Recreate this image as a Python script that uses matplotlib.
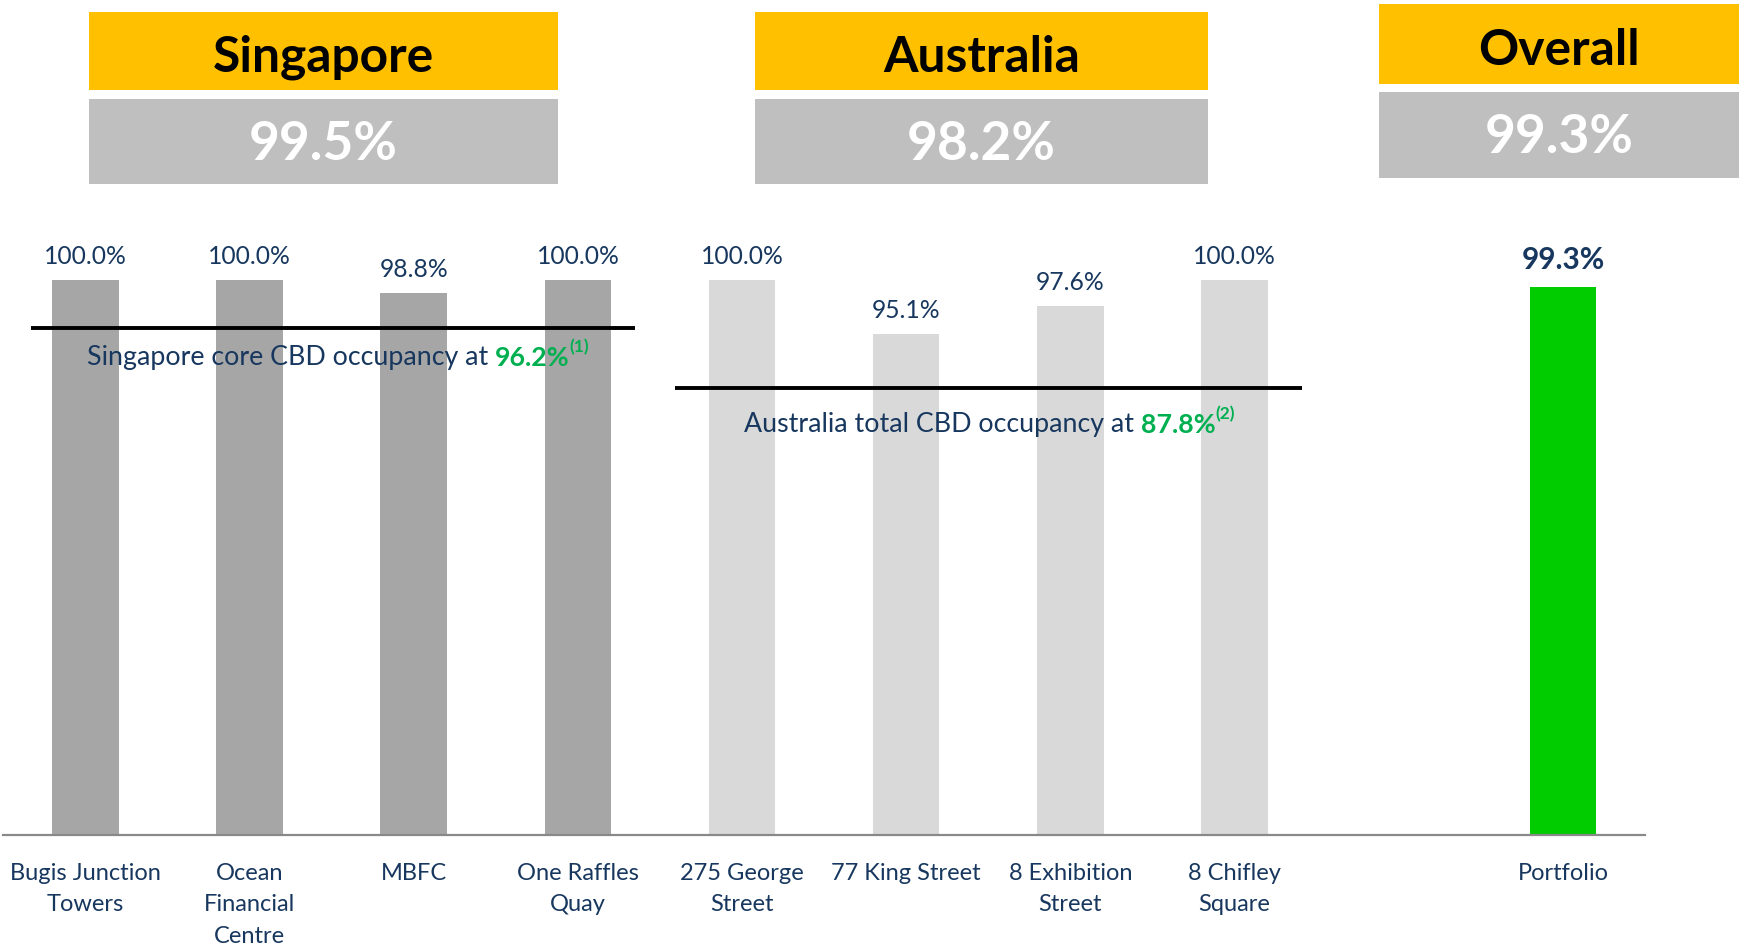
import matplotlib
matplotlib.use("Agg")
import matplotlib.pyplot as plt
from matplotlib.patches import Rectangle

# ---------------- data ----------------
categories = ["Bugis Junction\nTowers", "Ocean\nFinancial\nCentre", "MBFC", "One Raffles\nQuay",
              "275 George\nStreet", "77 King Street", "8 Exhibition\nStreet", "8 Chifley\nSquare",
              "Portfolio"]
occupancy = [100.0, 100.0, 98.8, 100.0, 100.0, 95.1, 97.6, 100.0, 99.3]
groups = ["Singapore"] * 4 + ["Australia"] * 4 + ["Overall"]
positions = [0, 1, 2, 3, 4, 5, 6, 7, 9]

headers = ["Singapore", "Australia", "Overall"]
header_values = ["99.5%", "98.2%", "99.3%"]

bench_text = ["Singapore core CBD occupancy at ", "Australia total CBD occupancy at "]
bench_value = ["96.2%", "87.8%"]
bench_note = ["(1)", "(2)"]

# ---------------- style ----------------
FONT = "Lato"
NAVY = "#17375E"
GREEN_TXT = "#00B050"
YELLOW = "#FFC000"
BOXGRAY = "#BFBFBF"
colors = {"Singapore": "#A6A6A6", "Australia": "#D9D9D9", "Overall": "#00CC00"}

W, H = 1739, 951
fig = plt.figure(figsize=(W / 100, H / 100), dpi=100)
plt.rcParams["font.family"] = [FONT, "DejaVu Sans"]

def fx(px):
    return px / W

def fy(py):
    return 1 - py / H

ax = fig.add_axes([fx(3.3), fy(835), fx(1645 - 3.3), (835 - 279.5) / H])
ax.set_xlim(-0.5, 9.5)
ax.set_ylim(50, 100)

bar_colors = [colors[g] for g in groups]
bars = ax.bar(positions, occupancy, width=0.405, color=bar_colors, zorder=2)

for x, v, g in zip(positions, occupancy, groups):
    if g == "Overall":
        ax.annotate(f"{v:.1f}%", xy=(x, v), xytext=(0, 13), textcoords="offset points",
                    ha="center", va="baseline", fontsize=21.5, fontweight="bold", color=NAVY,
                    annotation_clip=False)
    else:
        ax.annotate(f"{v:.1f}%", xy=(x, v), xytext=(0, 11.5), textcoords="offset points",
                    ha="center", va="baseline", fontsize=17.7, color=NAVY,
                    annotation_clip=False)

# benchmark lines
line_y = [95.6, 90.2]
line_x = [(-0.33, 3.35), (3.59, 7.41)]
text_pos = [(0.01, 92.3), (4.01, 86.3)]
for (x0, x1), y in zip(line_x, line_y):
    ax.plot([x0, x1], [y, y], color="black", lw=2.8, zorder=3, solid_capstyle="butt")

for (tx, ty), t, v, n in zip(text_pos, bench_text, bench_value, bench_note):
    t1 = ax.text(tx, ty, t, fontsize=19.3, color=NAVY, ha="left", va="baseline", zorder=4)
    t2 = ax.annotate(v, xy=(1, 0), xycoords=t1, ha="left", va="bottom",
                     fontsize=19.3, fontweight="bold", color=GREEN_TXT, zorder=4)
    ax.annotate(n, xy=(1, 0.6), xycoords=t2, ha="left", va="bottom",
                fontsize=12.5, fontweight="bold", color=GREEN_TXT, zorder=4)

# axes styling
for s in ["left", "right", "top"]:
    ax.spines[s].set_visible(False)
ax.spines["bottom"].set_color("#898989")
ax.spines["bottom"].set_linewidth(1.6)
ax.set_yticks([])
ax.set_xticks(positions)
ax.set_xticklabels(categories, fontsize=17, color=NAVY, linespacing=1.62)
ax.tick_params(axis="x", length=0, pad=20)

# header boxes (pixel layout)
boxes = [
    (88.7, 557.8, (12.2, 89.8), (98.7, 184.1), 72, 160),
    (755.0, 1207.7, (12.2, 89.8), (98.7, 184.1), 72, 160),
    (1378.5, 1739.0, (4.4, 83.5), (92.2, 178.0), 65, 153),
]
for (x0, x1, (yy0, yy1), (gy0, gy1), b1, b2), h, hv in zip(boxes, headers, header_values):
    fig.add_artist(Rectangle((fx(x0), fy(yy1)), fx(x1 - x0), (yy1 - yy0) / H,
                             transform=fig.transFigure, color=YELLOW, lw=0))
    fig.add_artist(Rectangle((fx(x0), fy(gy1)), fx(x1 - x0), (gy1 - gy0) / H,
                             transform=fig.transFigure, color=BOXGRAY, lw=0))
    cx = fx((x0 + x1) / 2)
    fig.text(cx, fy(b1), h, ha="center", va="baseline", fontsize=35.8,
             fontweight="bold", color="black")
    fig.text(cx, fy(b2), hv, ha="center", va="baseline", fontsize=38.3,
             fontweight="bold", color="white")

fig.savefig("out.png", dpi=100)
